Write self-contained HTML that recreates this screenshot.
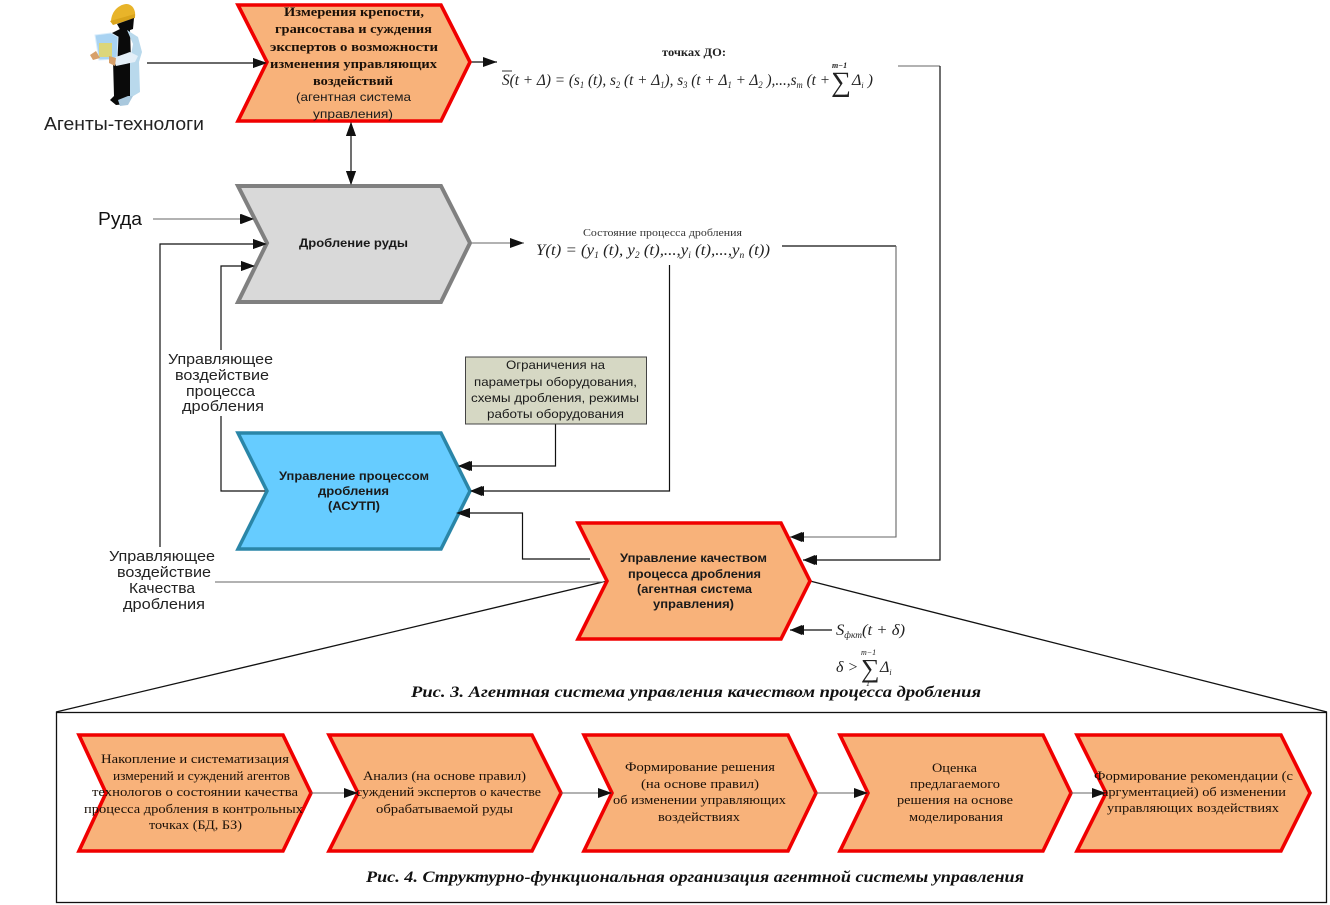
<!DOCTYPE html>
<html lang="ru">
<head>
<meta charset="utf-8">
<title>Агентная система управления</title>
<style>
html,body{margin:0;padding:0;background:#fff}
svg{display:block}
.se{font-family:"Liberation Serif","Noto Serif CJK SC",serif;font-size:13px;fill:#1a1008}
.sb{font-family:"Liberation Serif","Noto Serif CJK SC",serif;font-size:13px;font-weight:bold;fill:#1a1008}
.sa{font-family:"Liberation Sans","Noto Sans CJK SC",sans-serif;font-size:12px;fill:#1a1a1a}
.sx{font-family:"Liberation Sans","Noto Sans CJK SC",sans-serif;font-size:12px;font-weight:bold;fill:#1a1a1a}
.lb{font-family:"Liberation Sans","Noto Sans CJK SC",sans-serif;font-size:15px;fill:#222}
.m{font-family:"Liberation Serif",serif;font-size:16px;font-style:italic;fill:#222}
.cap{font-family:"Liberation Serif","Noto Serif CJK SC",serif;font-size:16px;font-style:italic;font-weight:bold;fill:#111}
.red{fill:#f8b27a;stroke:#f00000;stroke-width:3.6;stroke-linejoin:miter}
.c{fill:none;stroke:#111;stroke-width:1.2}
.g{fill:none;stroke:#666;stroke-width:1.1}
</style>
</head>
<body>
<svg width="1330" height="905" viewBox="0 0 1330 905" xmlns="http://www.w3.org/2000/svg">
<defs>
<marker id="a" markerUnits="userSpaceOnUse" markerWidth="14" markerHeight="10" refX="14" refY="5" orient="auto-start-reverse"><path d="M0 0L14 5L0 10Z" fill="#111"/></marker>
</defs>

<!-- worker -->
<g>
<path d="M111 22C111 12 118 5 126 4C133 4 136 11 135 17L116 24Z" fill="#e8b42a"/>
<path d="M110 21L135 14L135 18L113 25Z" fill="#d9a41c"/>
<path d="M117 24L134 18L133 29L122 33Z" fill="#0a0a0a"/>
<path d="M112 33L122 28L130 30L131 60L130 97L127 104L116 105L110 100L114 96L113 60Z" fill="#0a0a0a"/>
<path d="M127 30L138 37L142 52L139 62L140 92L130 98L130 60L133 44Z" fill="#b9d9ec"/>
<path d="M118 100L128 96L133 96L128 105L120 106Z" fill="#a9c8dd"/>
<path d="M95 35L111 33L118 37L117 59L99 60Z" fill="#a9d3f2" stroke="#d8ecfb" stroke-width="1"/>
<rect x="99" y="43" width="13" height="14" fill="#dcd67a"/>
<path d="M90 55L96 51L100 58L93 60Z" fill="#d7a06a"/>
<path d="M113 58L130 52L138 56L135 62L116 66Z" fill="#e4eff8"/>
<path d="M109 56L116 58L115 66L109 63Z" fill="#d7a06a"/>
</g>

<!-- outer box and zoom lines -->
<rect x="56.500" y="712.500" width="1270" height="190" fill="#fff" stroke="#111" stroke-width="1.300"/>
<path d="M56 712L607 581" fill="none" stroke="#111" stroke-width="1.300"/>
<path d="M810 581L1327 712" fill="none" stroke="#111" stroke-width="1.300"/>

<!-- connectors -->
<path class="c" d="M147 63H267" marker-end="url(#a)"/>
<path class="c" d="M470 62H497" marker-end="url(#a)"/>
<path class="c" d="M351 122V185" marker-start="url(#a)" marker-end="url(#a)"/>
<path class="g" d="M153 219H254" marker-end="url(#a)"/>
<path class="c" d="M160 547V244H267" marker-end="url(#a)"/>
<path class="c" d="M221 350V266H255" marker-end="url(#a)"/>
<path class="c" d="M221 416V491H267"/>
<path class="g" d="M470 243H524" marker-end="url(#a)"/>
<path class="c" d="M555.500 424V466H458" marker-end="url(#a)"/>
<path class="c" d="M669.500 265V491H470" marker-end="url(#a)"/>
<path class="c" d="M590 559H522.500V513H456" marker-end="url(#a)"/>
<path class="g" d="M215 582H607" stroke="#999"/>
<path class="c" d="M782 246H896" />
<path class="g" d="M896 246V537H790" marker-end="url(#a)"/>
<path class="g" d="M898 66H940"/>
<path class="c" d="M940 66V560H803" marker-end="url(#a)"/>
<path class="c" d="M832 630H790" marker-end="url(#a)"/>

<!-- top chevrons -->
<polygon class="red" points="238,5 441,5 470,62 441,121 238,121 267,62"/>
<polygon points="238,186 441,186 470,243 441,302 238,302 267,243" fill="#d9d9d9" stroke="#808080" stroke-width="4"/>
<polygon points="238,433 441,433 470,491 441,549 238,549 267,491" fill="#66ccff" stroke="#2a86a8" stroke-width="3.500"/>
<polygon class="red" points="578,523 781,523 810,581 781,639 578,639 607,581"/>

<!-- redraw arrowheads over shapes -->
<path d="M253 58L267 63L253 68Z" fill="#111"/>
<path d="M241 214L254 219L241 224Z" fill="#111"/>
<path d="M253 239L267 244L253 249Z" fill="#111"/>
<path d="M241 261L255 266L241 271Z" fill="#111"/>
<path d="M351 122L346 136H356Z" fill="#111"/>
<path d="M351 185L346 171H356Z" fill="#111"/>
<path d="M458 466L470 461V471Z" fill="#111"/>
<path d="M470 491L482 486V496Z" fill="#111"/>
<path d="M456 513L470 508V518Z" fill="#111"/>
<path d="M790 537L802 532V542Z" fill="#111"/>
<path d="M803 560L815 555V565Z" fill="#111"/>
<path d="M790 630L802 625V635Z" fill="#111"/>

<!-- note -->
<rect x="465.500" y="357" width="181" height="67" fill="#d6d8c4" stroke="#444" stroke-width="1"/>

<!-- bottom chevrons -->
<polygon class="red" points="79,735 283,735 311,793 283,851 79,851 106,793"/>
<polygon class="red" points="329,735 532,735 561,793 532,851 329,851 358,793"/>
<polygon class="red" points="584,735 788,735 816,793 788,851 584,851 612,793"/>
<polygon class="red" points="840,735 1043,735 1071,793 1043,851 840,851 868,793"/>
<polygon class="red" points="1077,735 1281,735 1310,793 1281,851 1077,851 1106,793"/>
<path class="g" d="M311 793H358"/>
<path class="g" d="M561 793H612"/>
<path class="g" d="M816 793H868"/>
<path class="g" d="M1071 793H1106"/>
<path d="M344 788L358 793L344 798Z" fill="#111"/>
<path d="M598 788L612 793L598 798Z" fill="#111"/>
<path d="M854 788L868 793L854 798Z" fill="#111"/>
<path d="M1092 788L1106 793L1092 798Z" fill="#111"/>

<!-- text top -->
<text class="sb" x="284" y="16" textLength="140" lengthAdjust="spacingAndGlyphs">Измерения крепости,</text>
<text class="sb" x="275" y="33" textLength="157" lengthAdjust="spacingAndGlyphs">грансостава и суждения</text>
<text class="sb" x="270" y="51" textLength="168" lengthAdjust="spacingAndGlyphs">экспертов  о возможности</text>
<text class="sb" x="270" y="68" textLength="167" lengthAdjust="spacingAndGlyphs">изменения управляющих</text>
<text class="sb" x="313" y="85" textLength="80" lengthAdjust="spacingAndGlyphs">воздействий</text>
<text class="sa" x="296" y="101" textLength="115" lengthAdjust="spacingAndGlyphs">(агентная система</text>
<text class="sa" x="313" y="118" textLength="80" lengthAdjust="spacingAndGlyphs">управления)</text>

<text class="lb" x="44" y="130" textLength="160" lengthAdjust="spacingAndGlyphs" style="font-size:18px">Агенты-технологи</text>
<text class="lb" x="98" y="225" textLength="44" lengthAdjust="spacingAndGlyphs" style="font-size:18px;fill:#111">Руда</text>

<text class="sx" x="299" y="247" textLength="109" lengthAdjust="spacingAndGlyphs">Дробление руды</text>

<rect x="165" y="350" width="112" height="66" fill="#fff"/>
<text class="lb" x="168" y="364" textLength="105" lengthAdjust="spacingAndGlyphs">Управляющее</text>
<text class="lb" x="175" y="380" textLength="94" lengthAdjust="spacingAndGlyphs">воздействие</text>
<text class="lb" x="186" y="396" textLength="69" lengthAdjust="spacingAndGlyphs">процесса</text>
<text class="lb" x="182" y="411" textLength="82" lengthAdjust="spacingAndGlyphs">дробления</text>

<text class="lb" x="109" y="561" textLength="106" lengthAdjust="spacingAndGlyphs">Управляющее</text>
<text class="lb" x="117" y="577" textLength="94" lengthAdjust="spacingAndGlyphs">воздействие</text>
<text class="lb" x="129" y="593" textLength="66" lengthAdjust="spacingAndGlyphs">Качества</text>
<text class="lb" x="123" y="609" textLength="82" lengthAdjust="spacingAndGlyphs">дробления</text>

<text class="sa" x="506" y="369" textLength="99" lengthAdjust="spacingAndGlyphs">Ограничения на</text>
<text class="sa" x="474" y="386" textLength="163" lengthAdjust="spacingAndGlyphs">параметры оборудования,</text>
<text class="sa" x="471" y="402" textLength="168" lengthAdjust="spacingAndGlyphs">схемы дробления, режимы</text>
<text class="sa" x="487" y="418" textLength="137" lengthAdjust="spacingAndGlyphs">работы оборудования</text>

<text class="sx" x="279" y="480" textLength="150" lengthAdjust="spacingAndGlyphs">Управление процессом</text>
<text class="sx" x="318" y="495" textLength="71" lengthAdjust="spacingAndGlyphs">дробления</text>
<text class="sx" x="328" y="510" textLength="52" lengthAdjust="spacingAndGlyphs">(АСУТП)</text>

<text class="sx" x="620" y="562" textLength="147" lengthAdjust="spacingAndGlyphs">Управление качеством</text>
<text class="sx" x="628" y="578" textLength="133" lengthAdjust="spacingAndGlyphs">процесса дробления</text>
<text class="sx" x="637" y="593" textLength="115" lengthAdjust="spacingAndGlyphs">(агентная система</text>
<text class="sx" x="653" y="608" textLength="81" lengthAdjust="spacingAndGlyphs">управления)</text>

<!-- formulas -->
<text x="662" y="56" textLength="64" lengthAdjust="spacingAndGlyphs" style="font-family:'Liberation Serif',serif;font-size:11.500px;font-weight:bold;fill:#222">точках ДО:</text>
<path d="M502 71H512" stroke="#333" stroke-width="1"/>
<text class="m" x="502" y="85" textLength="328" lengthAdjust="spacingAndGlyphs">S(t + Δ) = (s<tspan font-size="9" dy="3">1</tspan><tspan dy="-3"> (t), s</tspan><tspan font-size="9" dy="3">2</tspan><tspan dy="-3"> (t + Δ</tspan><tspan font-size="9" dy="3">1</tspan><tspan dy="-3">), s</tspan><tspan font-size="9" dy="3">3</tspan><tspan dy="-3"> (t + Δ</tspan><tspan font-size="9" dy="3">1</tspan><tspan dy="-3"> + Δ</tspan><tspan font-size="9" dy="3">2</tspan><tspan dy="-3"> ),...,s</tspan><tspan font-size="9" dy="3">m</tspan><tspan dy="-3"> (t +</tspan></text>
<text class="m" x="831" y="91" style="font-size:28px;font-style:normal">∑</text>
<text class="m" x="832" y="68" style="font-size:8px;font-weight:bold">m−1</text>
<text class="m" x="852" y="85">Δ<tspan font-size="8" dy="3">i</tspan><tspan dy="-3"> )</tspan></text>

<text x="583" y="236" textLength="159" lengthAdjust="spacingAndGlyphs" style="font-family:'Liberation Serif',serif;font-size:11px;fill:#333">Состояние процесса дробления</text>
<text class="m" x="536" y="255" textLength="234" lengthAdjust="spacingAndGlyphs">Y(t) = (y<tspan font-size="9" dy="3">1</tspan><tspan dy="-3"> (t), y</tspan><tspan font-size="9" dy="3">2</tspan><tspan dy="-3"> (t),...,y</tspan><tspan font-size="9" dy="3">i</tspan><tspan dy="-3"> (t),...,y</tspan><tspan font-size="9" dy="3">n</tspan><tspan dy="-3"> (t))</tspan></text>

<text class="m" x="836" y="635" textLength="69" lengthAdjust="spacingAndGlyphs">S<tspan font-size="9" dy="3">фкт</tspan><tspan dy="-3">(t + δ)</tspan></text>
<text class="m" x="836" y="672">δ &gt;</text>
<text class="m" x="861" y="677" style="font-size:26px;font-style:normal">∑</text>
<text class="m" x="861" y="655" style="font-size:8px">m−1</text>
<text class="m" x="866" y="686" style="font-size:8px">1</text>
<text class="m" x="880" y="672">Δ<tspan font-size="8" dy="3">i</tspan></text>

<!-- captions -->
<text class="cap" x="411" y="697" textLength="570" lengthAdjust="spacingAndGlyphs">Рис. 3. Агентная система управления качеством процесса дробления</text>
<text class="cap" x="366" y="882" textLength="658" lengthAdjust="spacingAndGlyphs">Рис. 4. Структурно-функциональная организация агентной системы управления</text>

<!-- bottom text -->
<text class="se" x="101" y="763" textLength="188" lengthAdjust="spacingAndGlyphs">Накопление и систематизация</text>
<text class="se" x="113" y="780" textLength="177" lengthAdjust="spacingAndGlyphs">измерений и суждений агентов</text>
<text class="se" x="92" y="796" textLength="206" lengthAdjust="spacingAndGlyphs">технологов о состоянии  качества</text>
<text class="se" x="84" y="813" textLength="219" lengthAdjust="spacingAndGlyphs">процесса дробления в контрольных</text>
<text class="se" x="149" y="829" textLength="93" lengthAdjust="spacingAndGlyphs">точках (БД, БЗ)</text>

<text class="se" x="363" y="780" textLength="163" lengthAdjust="spacingAndGlyphs">Анализ (на основе правил)</text>
<text class="se" x="356" y="796" textLength="185" lengthAdjust="spacingAndGlyphs">суждений экспертов о качестве</text>
<text class="se" x="376" y="813" textLength="137" lengthAdjust="spacingAndGlyphs">обрабатываемой руды</text>

<text class="se" x="625" y="771" textLength="150" lengthAdjust="spacingAndGlyphs">Формирование решения</text>
<text class="se" x="641" y="788" textLength="118" lengthAdjust="spacingAndGlyphs">(на основе правил)</text>
<text class="se" x="613" y="804" textLength="173" lengthAdjust="spacingAndGlyphs">об изменении управляющих</text>
<text class="se" x="658" y="821" textLength="82" lengthAdjust="spacingAndGlyphs">воздействиях</text>

<text class="se" x="932" y="772" textLength="45" lengthAdjust="spacingAndGlyphs">Оценка</text>
<text class="se" x="910" y="788" textLength="90" lengthAdjust="spacingAndGlyphs">предлагаемого</text>
<text class="se" x="897" y="804" textLength="116" lengthAdjust="spacingAndGlyphs">решения на основе</text>
<text class="se" x="909" y="821" textLength="94" lengthAdjust="spacingAndGlyphs">моделирования</text>

<text class="se" x="1094" y="780" textLength="199" lengthAdjust="spacingAndGlyphs">Формирование рекомендации (с</text>
<text class="se" x="1102" y="796" textLength="184" lengthAdjust="spacingAndGlyphs">аргументацией) об изменении</text>
<text class="se" x="1107" y="812" textLength="172" lengthAdjust="spacingAndGlyphs">управляющих воздействиях</text>
</svg>
</body>
</html>
